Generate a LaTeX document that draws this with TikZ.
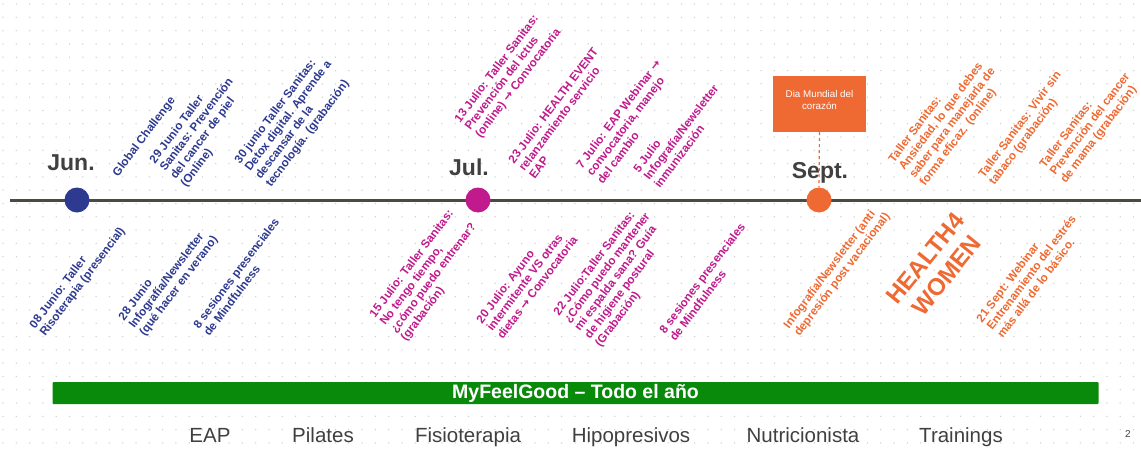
\documentclass[tikz,border=0pt]{standalone}
\usepackage{fontspec}
\setmainfont{Liberation Sans}
\newfontfamily\arrowfont{DejaVu Sans}
\newcommand{\myarrow}{{\arrowfont\symbol{"2192}}}
\definecolor{cblue}{HTML}{2E3A90}
\definecolor{cmag}{HTML}{C01A8C}
\definecolor{corange}{HTML}{EE6A32}
\definecolor{cgreen}{HTML}{0A8A0A}
\definecolor{cline}{HTML}{4A4A42}
\definecolor{cmonth}{HTML}{404040}
\tikzset{
  evt/.style={font=\bfseries\fontsize{11.7}{13}\selectfont, align=left, rotate=53, anchor=north west, inner sep=0pt},
  month/.style={font=\bfseries\fontsize{23}{26}\selectfont, text=cmonth, anchor=base, inner sep=0pt},
  dot/.style={circle, inner sep=0pt, minimum size=25pt},
  cat/.style={font=\fontsize{20.5}{23}\selectfont, text=cmonth, anchor=base, inner sep=0pt}
}
\begin{document}
\begin{tikzpicture}[x=1pt, y=-1pt]
\useasboundingbox (0,0) rectangle (1141,450);
\fill[white] (0,0) rectangle (1141,450);
\foreach \i in {0,...,85} \foreach \j in {0,...,33} \fill[gray!38] ({3+13.3*\i},{4+13.3*\j}) circle (0.75);
% timeline
\coordinate (tl) at (10,200);
\coordinate (tr) at (1141,200);
\draw[cline, line width=3pt] (tl) -- (tr);
\node[dot, fill=cblue] (jun) at (77,200) {};
\node[dot, fill=cmag] (jul) at (478,200) {};
\node[dot, fill=corange] (sept) at (819,200) {};
\node[month] (junl) at (71,170) {Jun.};
\node[month] (jull) at (469,175) {Jul.};
\node[month] (septl) at (820,178) {Sept.};
% box
\node[fill=corange, minimum width=93pt, minimum height=56pt, inner sep=0pt] (dia) at (819.5,104) {};
\node[text=white, font=\fontsize{9.8}{12}\selectfont, align=center, inner sep=0pt] (dialbl) at (819.5,100) {Dia Mundial del\\corazón};
\draw[corange, dashed, line width=1.2pt] (dia.south) -- (sept.north);
% June
\begin{scope}[text=cblue]
\node[evt] (a1) at (111,172) {Global Challenge};
\node[evt] (a2) at (148,159) {29 Junio Taller\\Sanitas: Prevención\\del cancer de piel\\(Online)};
\node[evt] (a3) at (233,159) {30 junio Taller Sanitas:\\Detox digital. Aprende a\\descansar de la\\tecnología. (grabación)};
\node[evt] (d1) at (28,324) {08 Junio: Taller\\Risoterapia (presencial)};
\node[evt] (d2) at (117,316) {28 Junio\\Infografía/Newsletter\\(qué hacer en verano)};
\node[evt] (d3) at (192,324) {8 sesiones presenciales\\de Mindfulness};
\end{scope}
% July
\begin{scope}[text=cmag]
\node[evt] (b1) at (453,118) {13 Julio: Taller Sanitas:\\Prevención del ictus\\(online) \myarrow{} Convocatoria};
\node[evt] (b2) at (507,159) {23 Julio: HEALTH EVENT\\relanzamiento servicio\\EAP};
\node[evt] (b3) at (575,164) {7 Julio: EAP Webinar \myarrow\\convocatoria, manejo\\del cambio};
\node[evt] (b4) at (632,168) {5 Julio\\Infografía/Newsletter\\inmunización};
\node[evt] (e1) at (368,313) {15 Julio: Taller Sanitas:\\No tengo tiempo,\\¿cómo puedo entrenar?\\(grabación)};
\node[evt] (e2) at (475,319) {20 Julio: Ayuno\\intermitente VS otras\\dietas \myarrow{} Convocatoria};
\node[evt] (e3) at (552,311) {22 Julio:Taller Sanitas:\\¿Cómo puedo mantener\\mi espalda sana? Guía\\de higiene postural\\(Grabación)};
\node[evt] (e4) at (658,329) {8 sesiones presenciales\\de Mindfulness};
\end{scope}
% September
\begin{scope}[text=corange]
\node[evt] (c1) at (887,158) {Taller Sanitas:\\Ansiedad, lo que debes\\saber para manejarla de\\forma eficaz. (online)};
\node[evt] (c2) at (977,173) {Taller Sanitas: Vivir sin\\tabaco (grabación)};
\node[evt] (c3) at (1038,163) {Taller Sanitas:\\Prevención del cancer\\de mama (grabación)};
\node[evt] (f1) at (782,324) {Infografía/Newsletter (anti\\depresión post vacacional)};
\node[font=\bfseries\fontsize{24}{27}\selectfont, align=center, rotate=51, inner sep=0pt] (f2) at (936,267) {HEALTH4\\WOMEN};
\node[evt] (f3) at (975,318) {21 Sept: Webinar\\Entrenamiento del estrés\\más allá de lo básico.};
\end{scope}
% green bar
\node[fill=cgreen, rounded corners=1pt, minimum width=1046pt, minimum height=22pt, inner sep=0pt, text=white, font=\bfseries\fontsize{19.5}{21}\selectfont] (bar) at (575.5,393) {MyFeelGood – Todo el año};
% categories
\node[cat] (k1) at (210,442) {EAP};
\node[cat] (k2) at (323,442) {Pilates};
\node[cat] (k3) at (468,442) {Fisioterapia};
\node[cat] (k4) at (631,442) {Hipopresivos};
\node[cat] (k5) at (803,442) {Nutricionista};
\node[cat] (k6) at (961,442) {Trainings};
\node[font=\fontsize{10}{12}\selectfont, text=cmonth, anchor=base, inner sep=0pt] (pg) at (1128,437) {2};
\end{tikzpicture}
\end{document}
